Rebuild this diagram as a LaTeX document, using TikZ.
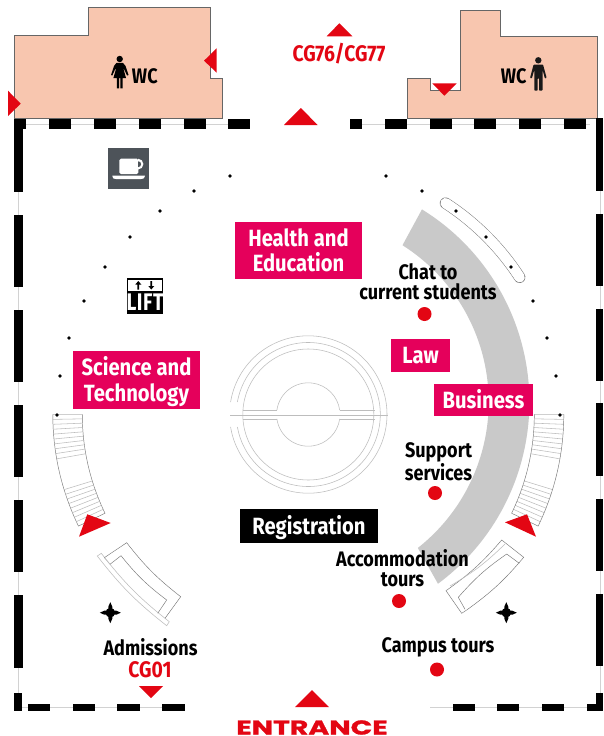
\documentclass[tikz,border=0pt]{standalone}
\usepackage{fontspec}
\setmainfont{Liberation Sans}
\newfontfamily\lab[FakeStretch=0.86]{Fira Sans}
\newfontfamily\liftfont[FakeStretch=0.8]{Fira Sans}
\newfontfamily\entfont[FakeStretch=1.42,BoldFeatures={FakeBold=1.2}]{Poppins}
\definecolor{rd}{HTML}{E30613}
\definecolor{pk}{HTML}{E5005B}
\definecolor{peach}{HTML}{F8C6AF}
\definecolor{arcg}{HTML}{C9C9C9}
\definecolor{wallg}{HTML}{D2D2D2}
\definecolor{thin}{HTML}{BDBDBD}
\definecolor{thind}{HTML}{777777}
\definecolor{cupg}{HTML}{4D5359}
\tikzset{
 room/.style={fill=peach,draw=black!60,line width=0.7pt},
 redtri/.style={fill=rd,draw=none},
 wallbar/.style={fill=black,draw=none},
 wallline/.style={draw=wallg,line width=0.7pt},
 pinkbox/.style={fill=pk,text=white,font=\lab\bfseries\fontsize{23.5}{25.5}\selectfont,align=center,inner sep=0pt},
 lbl/.style={text=black,font=\lab\bfseries\fontsize{21}{20}\selectfont,align=center,inner sep=0pt},
 redlbl/.style={text=rd,font=\lab\bfseries\fontsize{22.5}{22}\selectfont,inner sep=0pt},
 spot/.style={fill=rd,draw=none},
 pin/.style={fill=black,draw=none},
 fine/.style={draw=thin,line width=0.55pt},
 finer/.style={draw=thind,line width=0.45pt},
 crossmark/.pic={
  \fill[black] (0,0) circle (4.8pt);
  \fill[black] (-10.5,0) -- (-6,2) -- (6,2) -- (10.5,0) -- (6,-2) -- (-6,-2) -- cycle;
  \fill[black] (0,-10.5) -- (2,-6) -- (2,6) -- (0,10.5) -- (-2,6) -- (-2,-6) -- cycle;
 }
}
\begin{document}
\begin{tikzpicture}[x=1pt,y=1pt]
\useasboundingbox (0,0) rectangle (603,-736);
\fill[white] (0,0) rectangle (603,-736);
\coordinate (cc) at (308.3,-414.5);
\coordinate (ca) at (303,-402);

% rooms
\draw[room] (14.5,-35) -- (88,-35) -- (88,-7.5) -- (210,-7.5) -- (210,-78) -- (222,-78) -- (222,-118.5) -- (14.5,-118.5) -- cycle;
\draw[room] (407,-118.5) -- (407,-78.5) -- (430,-78.5) -- (430,-90) -- (460.5,-90) -- (460.5,-10.5) -- (500.5,-10.5) -- (500.5,-36.5) -- (597.5,-36.5) -- (597.5,-118.5) -- cycle;

% thin wall lines
\draw[wallline] (18.5,-119) -- (18.5,-695);
\draw[wallline] (14,-124) -- (250,-124);
\draw[wallline] (350,-124) -- (590,-124);
\draw[wallline] (600.5,-119) -- (600.5,-695);
\draw[wallline] (20,-707.5) -- (184.6,-707.5);
\draw[wallline] (430,-707.5) -- (597,-707.5);

% top wall
\foreach \a/\b in {14/26.3,49/71,94/116,138.5/160.5,183.5/205.5,228/250,350/362,384.5/407,429.5/451.5,474/496,519/541,563.5/586}
  \fill[wallbar] (\a,-119) rectangle (\b,-128.5);
% left wall
\foreach \a/\b in {119/192,214.5/287,309.5/382,404.7/477,500/572.3,595/668}
  \fill[wallbar] (14,-\a) rectangle (23.3,-\b);
% right wall
\foreach \a/\b in {118/191,213.7/286,308.5/381,403.3/476,498.7/571,593.7/666}
  \fill[wallbar] (595.7,-\a) rectangle (603,-\b);
% bottom wall
\foreach \a/\b in {28/50,72.7/95,117/139.6,162/184.6,452.7/475,497/519,542/564,586.5/603}
  \fill[wallbar] (\a,-703.5) rectangle (\b,-711);
\fill[wallbar] (13.5,-693) rectangle (21.5,-711);
\fill[wallbar] (596,-693) rectangle (603,-711);

% grey arc
\fill[arcg] ([shift={(58.3:226.4pt)}]ca) arc[start angle=58.3,end angle=-53.4,radius=226.4pt]
  -- ([shift={(-51.8:185.7pt)}]ca) arc[start angle=-51.8,end angle=57.6,radius=185.7pt] -- cycle;

% capsule
\draw[draw=thind,line width=11.4pt,line cap=round] ([shift={(57:252pt)}]cc) arc[start angle=57,end angle=33,radius=252pt];
\draw[draw=white,line width=10.4pt,line cap=round] ([shift={(57:252pt)}]cc) arc[start angle=57,end angle=33,radius=252pt];

% stairs
\draw[finer] ([shift={(180:226pt)}]cc) arc[start angle=180,end angle=205.9,radius=226pt]
  -- ([shift={(205.9:255.5pt)}]cc) arc[start angle=205.9,end angle=180,radius=255.5pt] -- cycle;
\foreach \t in {1.1,2.2,3.3,4.4,5.5,6.6,7.7,8.8,10,17.1,18.2,19.3,20.4,21.5,22.6,23.7,24.8}{
   \draw[fine] ([shift={(180+\t:226pt)}]cc) -- ([shift={(180+\t:255.5pt)}]cc);
   \draw[fine] ([shift={(-\t:226pt)}]cc) -- ([shift={(-\t:255.5pt)}]cc);
}
\draw[finer] ([shift={(0:226pt)}]cc) arc[start angle=0,end angle=-25.9,radius=226pt]
  -- ([shift={(-25.9:255.5pt)}]cc) arc[start angle=-25.9,end angle=0,radius=255.5pt] -- cycle;

% desks left
\draw[fine] (97.3,-556) -- (101.3,-553.3) to[bend right=7] (169.3,-621.7) -- (166.7,-625.7) to[bend left=7] cycle;
\draw[finer] (104.3,-557.7) -- (126.7,-542.7) to[bend right=7] (180.7,-596.7) -- (165,-618.3);
\draw[finer] (110,-564.3) -- (121,-555.7) to[bend right=7] (166.7,-600) -- (157.7,-613.3);
\draw[fine] (104.3,-557.7) -- (110,-564.3);
% desks right
\draw[finer] (501.7,-540) -- (523.7,-557.3) to[bend left=7] (466.7,-610) -- (461.7,-613.3) -- (446,-590.7) to[bend right=7] cycle;
\draw[finer] (506.7,-554) -- (519.3,-563.3);
\draw[finer] (506.7,-554) to[bend right=7] (458.3,-597.3) -- (465,-609.3);
\draw[fine] (450,-586) to[bend right=7] (505,-544);

% central circles
\draw[fine] (cc) circle (65.5pt);
\draw[fine] ([shift={(170:72pt)}]cc) arc[start angle=170,end angle=-170,radius=72pt];
\draw[fine] ([shift={(171:78.7pt)}]cc) arc[start angle=171,end angle=-171,radius=78.7pt];
\draw[fine] ([shift={(172:31.7pt)}]cc) arc[start angle=172,end angle=8,radius=31.7pt];
\draw[fine] ([shift={(-172:31.7pt)}]cc) arc[start angle=-172,end angle=-8,radius=31.7pt];
\draw[fine] (230,-414.8) -- (388,-414.8);
\draw[fine] (242.8,-410.3) -- (277,-410.3) (339.5,-410.3) -- (374.5,-410.3);
\draw[fine] (242.8,-419.3) -- (277,-419.3) (339.5,-419.3) -- (374.5,-419.3);

% pins
\foreach \x/\y in {230/176,194/191,160/211,130/237,105/267,84/301,69/338,60/376,57/415,386/176,422/191,456/211,486/237,511/267,533/301,547/338,556/376,560/415}
  \fill[pin] (\x,-\y) circle (1.9pt);

% cup icon
\fill[cupg] (108.3,-148.3) rectangle (148.7,-188.7);
\fill[white,rounded corners=1.5pt] (119.3,-158.7) rectangle (138.3,-174);
\fill[white] (138,-158.7) arc[start angle=90,end angle=-90,radius=5.4pt] -- cycle;
\fill[cupg] (138.2,-161.3) arc[start angle=90,end angle=-90,radius=2.9pt] -- cycle;
\fill[white] (112.3,-175.7) -- (145,-175.7) .. controls (144,-179) and (143,-179) .. (141,-179) -- (116,-179) .. controls (114,-179) and (113,-179) .. (112.3,-175.7) -- cycle;

% lift icon
\fill[black] (126.7,-277.7) rectangle (163.3,-314);
\fill[white] (128.4,-279.5) rectangle (161.6,-290.6);
\fill[black] (138.3,-281) -- (141.3,-284.5) -- (139.2,-284.5) -- (139.2,-289.5) -- (137.4,-289.5) -- (137.4,-284.5) -- (135.3,-284.5) -- cycle;
\fill[black] (151.3,-289.5) -- (154.3,-286) -- (152.2,-286) -- (152.2,-281) -- (150.4,-281) -- (150.4,-286) -- (148.3,-286) -- cycle;
\node[inner sep=0pt,text=white,font=\liftfont\bfseries\fontsize{24}{24}\selectfont] (lifttxt) at (145,-302.3) {L\kern0.6pt I\kern0.6pt F\kern0.6pt T};

% person icons
\fill[black] (119.7,-59) circle (3.2pt);
\fill[black] (116.5,-62.8) -- (122.9,-62.8) -- (125.5,-66) -- (128.5,-75) -- (127,-75.5) -- (124,-69) -- (123.5,-69) -- (126,-78) -- (122.5,-78) -- (122.5,-88.3) -- (120.3,-88.3) -- (120.3,-78) -- (119.1,-78) -- (119.1,-88.3) -- (116.9,-88.3) -- (116.9,-78) -- (113.4,-78) -- (116,-69) -- (115.3,-69) -- (112.3,-75.5) -- (111,-75) -- (114,-66) -- cycle;
\fill[black!90] (538.3,-60.3) circle (3.2pt);
\fill[black!90,rounded corners=0.8pt] (533.6,-64.5) -- (543,-64.5) -- (546.7,-78) -- (544.9,-78.5) -- (542.6,-70) -- (542.5,-90.7) -- (539,-90.7) -- (539,-78) -- (537.7,-78) -- (537.7,-90.7) -- (534.3,-90.7) -- (534.3,-70) -- (531.8,-78.5) -- (530,-78) -- cycle;
\node[lbl] (wcf) at (144.8,-76) {WC};
\node[lbl] (wcm) at (513.7,-76) {WC};

% red triangles
\fill[redtri] (216.7,-48.3) -- (204,-60.7) -- (216.7,-72.7) -- cycle;
\fill[redtri] (8,-90.7) -- (20.7,-103.7) -- (8,-116) -- cycle;
\fill[redtri] (339.3,-23.3) -- (326.7,-36.3) -- (352.3,-36.3) -- cycle;
\fill[redtri] (300.8,-108) -- (284,-125) -- (317.7,-125) -- cycle;
\fill[redtri] (432.3,-83.3) -- (456.7,-83.3) -- (444.3,-95.7) -- cycle;
\fill[redtri] (139,-686) -- (163,-686) -- (151,-698) -- cycle;
\fill[redtri] (295,-707) -- (329,-707) -- (312,-690) -- cycle;
\fill[redtri] (87.3,-514.3) -- (110.7,-523) -- (79,-536.7) -- cycle;
\fill[redtri] (505,-522.3) -- (527,-514.3) -- (536,-536.7) -- cycle;

% red spots
\foreach \x/\y in {424.5/314,435/493,399/601,437/669.5}
  \fill[spot] (\x,-\y) circle (7pt);

% crosses
\pic at (110.3,-612.7) {crossmark};
\pic at (506.3,-612.7) {crossmark};

% boxes
\node[fill=pk,minimum width=127pt,minimum height=58pt,inner sep=0pt] (science) at (136.5,-380) {};
\node[pinkbox,minimum width=127pt,minimum height=57pt] (health) at (298.5,-250.5) {Health and\\Education};
\node[pinkbox,inner sep=0pt,fill=none] (sciencetxt) at (136.5,-381.5) {Science and\\Technology};
\node[pinkbox,minimum width=59pt,minimum height=33pt] (law) at (420.5,-355.5) {Law};
\node[pinkbox,minimum width=99pt,minimum height=32pt] (business) at (483.5,-400) {\raisebox{-8pt}[0pt][0pt]{Business}};
\node[fill=black,text=white,font=\lab\bfseries\fontsize{23.5}{24}\selectfont,minimum width=138pt,minimum height=34pt,inner sep=0pt] (reg) at (309,-526) {\raisebox{-8pt}[0pt][0pt]{Registration}};

% labels
\node[lbl] (chat) at (428,-282) {Chat to\\current students};
\node[lbl] (support) at (438.5,-461.5) {Support\\services};
\node[lbl] (accom) at (402.5,-568.5) {Accommodation\\tours};
\node[lbl] (campus) at (438,-647.5) {Campus tours};
\node[lbl] (admis) at (150.5,-647) {Admissions};
\node[redlbl] (cg01) at (150,-670) {CG01};
\node[redlbl] (cg76) at (339,-54) {CG76/CG77};
\node[inner sep=0pt,text=rd,font=\entfont\bfseries\fontsize{20}{20}\selectfont] (ent) at (312,-727.5) {ENTRANCE};
\end{tikzpicture}
\end{document}
